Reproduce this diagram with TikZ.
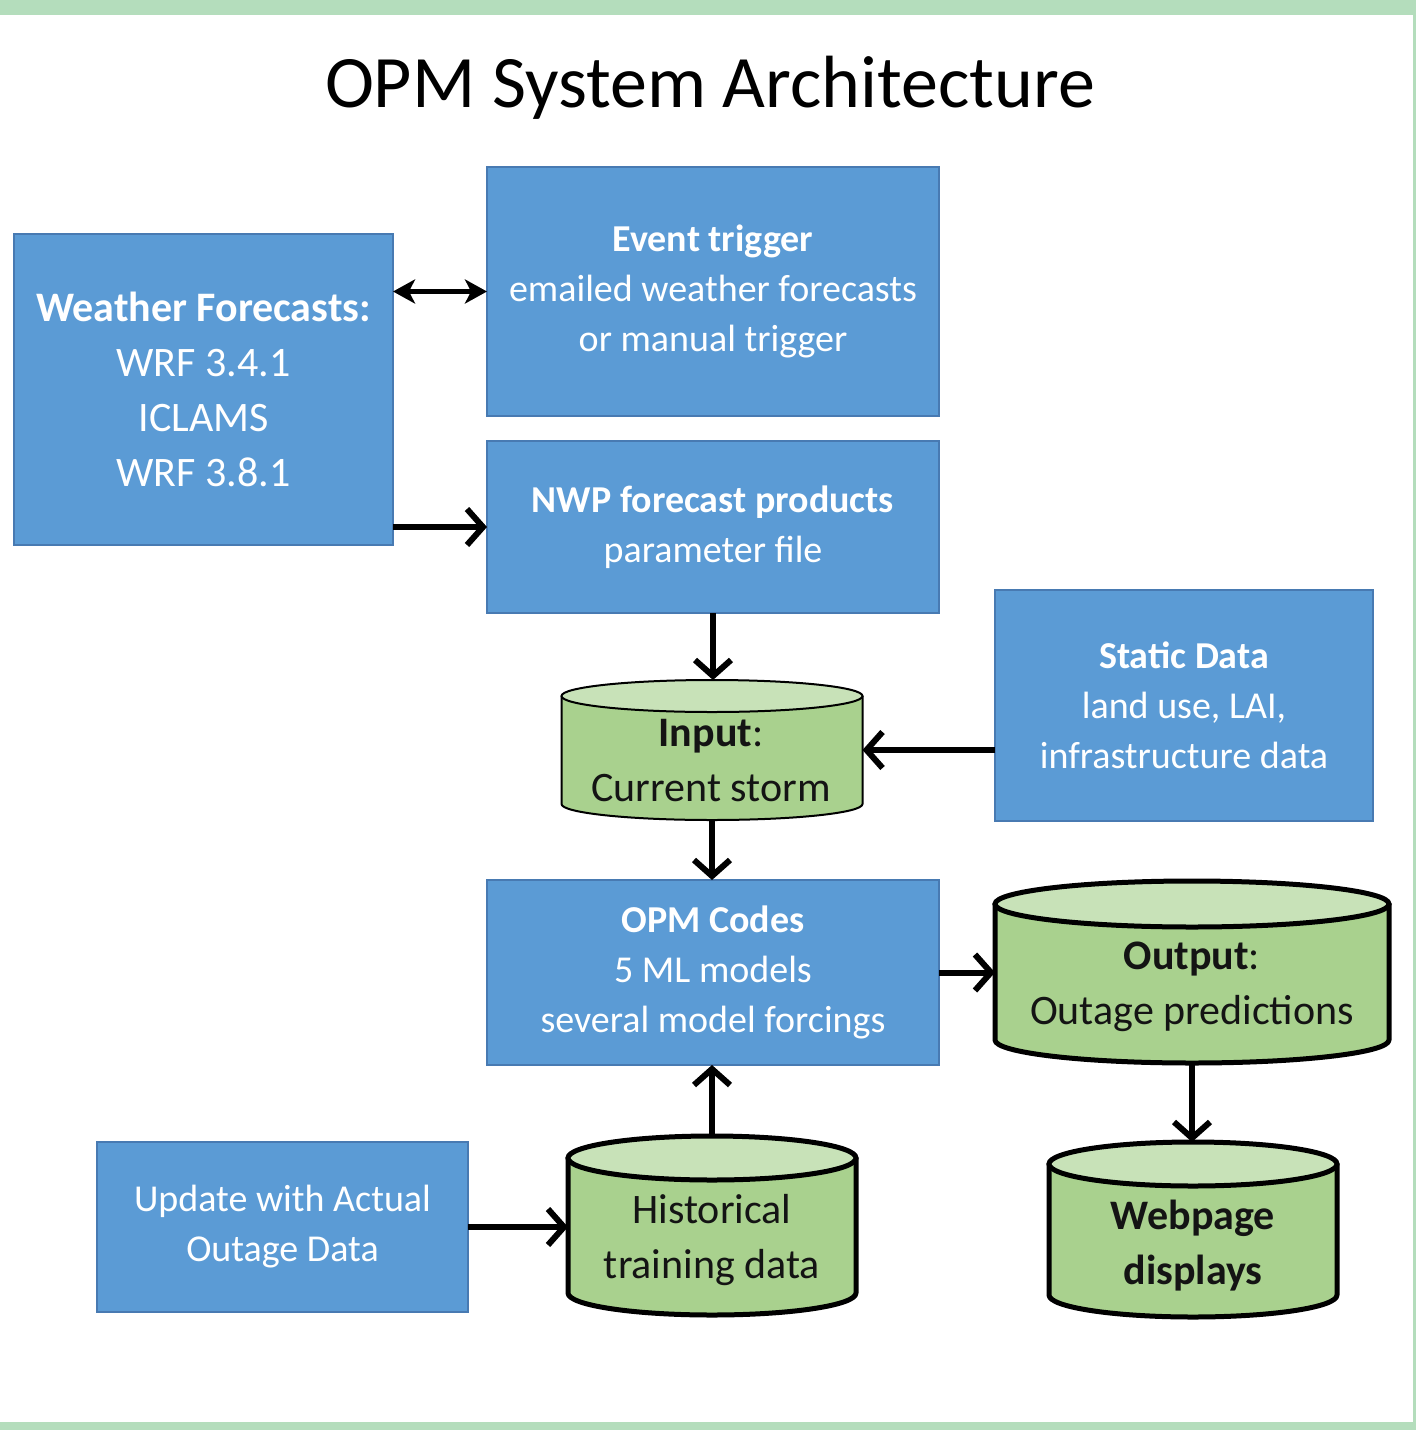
\documentclass[tikz,border=0pt]{standalone}
\usepackage{fontspec}
\setmainfont{Carlito}
\usetikzlibrary{arrows.meta,fit}
\definecolor{boxblue}{RGB}{91,155,213}
\definecolor{boxedge}{RGB}{72,122,178}
\definecolor{cylbody}{RGB}{169,209,142}
\definecolor{cyltop}{RGB}{200,226,184}
\definecolor{framegreen}{RGB}{180,221,188}
\definecolor{darktext}{RGB}{20,20,20}

\newcommand{\dbcyl}[7]{%
  \pgfmathsetmacro{\cyXl}{#2-#5}\pgfmathsetmacro{\cyXr}{#2+#5}%
  \pgfmathsetmacro{\cyRx}{#5*0.5}\pgfmathsetmacro{\cyRy}{#6*0.5}%
  \pgfmathsetmacro{\cyTop}{#3-#6}\pgfmathsetmacro{\cyBot}{#4+#6}%
  \filldraw[fill=cylbody, draw=black, line width=#7, line join=round]
    (\cyXl,#3) -- (\cyXl,#4) arc[start angle=180, end angle=360, x radius=\cyRx pt, y radius=\cyRy pt]
    -- (\cyXr,#3) -- cycle;
  \filldraw[fill=cyltop, draw=black, line width=#7] (#2,#3) ellipse[x radius=\cyRx pt, y radius=\cyRy pt];
  \coordinate (#1-nw) at (\cyXl,\cyTop);
  \coordinate (#1-se) at (\cyXr,\cyBot);
  \node[fit=(#1-nw)(#1-se), inner sep=0pt, outer sep=0pt] (#1) {};
}

\begin{document}
\begin{tikzpicture}[x=0.5pt, y=-0.5pt,
  bluebox/.style={draw=boxedge, fill=boxblue, line width=0.75pt, text=white, align=center,
    inner sep=0pt, outer sep=0pt, font=\fontsize{19}{25}\selectfont},
  cyltext/.style={text=darktext, align=center, inner sep=0pt, font=\fontsize{21}{27.5}\selectfont},
  flow/.style={line width=3pt, -{Straight Barb[length=8pt, width=18pt]}},
  both/.style={line width=2.6pt, {Stealth[length=11pt, width=12pt, inset=3pt]}-{Stealth[length=11pt, width=12pt, inset=3pt]}}
]
\useasboundingbox (0,0) rectangle (1416,1430);
\fill[white] (0,0) rectangle (1416,1430);
\fill[framegreen] (0,0) rectangle (1416,15);
\fill[framegreen] (0,1422) rectangle (1416,1430);
\fill[framegreen] (1413,0) rectangle (1416,1430);

\node[anchor=base, font=\fontsize{37}{44}\selectfont] (title) at (710,107) {OPM System Architecture};

\node[bluebox, minimum width=189.5pt, minimum height=155.5pt, font=\fontsize{21}{27.5}\selectfont] (wf) at (203.5,389.5)
  {\textbf{Weather Forecasts:}\\WRF 3.4.1\\ICLAMS\\WRF 3.8.1};
\node[bluebox, minimum width=226pt, minimum height=124.5pt] (ev) at (713,291.5)
  {\textbf{Event trigger}\\emailed weather forecasts\\or manual trigger};
\node[bluebox, minimum width=226pt, minimum height=86pt] (nwp) at (713,527)
  {\textbf{NWP forecast products}\\parameter file};
\node[bluebox, minimum width=189pt, minimum height=115.5pt] (st) at (1184,705.5)
  {\textbf{Static Data}\\land use, LAI,\\infrastructure data};
\node[bluebox, minimum width=226pt, minimum height=92.5pt] (opm) at (713,972.5)
  {\textbf{OPM Codes}\\5 ML models\\several model forcings};
\node[bluebox, minimum width=185.5pt, minimum height=85pt] (up) at (282.5,1227)
  {Update with Actual\\Outage Data};

\dbcyl{in}{712}{696}{804}{150.5}{16}{1pt}
\dbcyl{out}{1192}{904}{1040}{197}{23}{2.5pt}
\dbcyl{hist}{712}{1158}{1293}{144}{22}{2.5pt}
\dbcyl{web}{1193}{1164}{1295}{144}{22}{2.5pt}

\node[cyltext] (intx) at (711,761) {\textbf{Input}:\\Current storm};
\node[cyltext] (outtx) at (1192,987) {\textbf{Output}:\\Outage predictions};
\node[cyltext] (histtx) at (712,1240) {Historical\\training data};
\node[cyltext] (webtx) at (1193,1246) {\textbf{Webpage}\\\textbf{displays}};

\draw[both] (wf.east |- ev.west) -- (ev.west);
\draw[flow] (wf.east |- nwp.west) -- (nwp.west);
\draw[flow] (nwp.south) -- (nwp.south |- in.north);
\draw[flow] (st.west |- in.east) -- (in.east);
\draw[flow] (in.south) -- (in.south |- opm.north);
\draw[flow] (opm.east) -- (opm.east -| out.west);
\draw[flow] (hist.north) -- (hist.north |- opm.south);
\draw[flow] (out.south) -- (out.south |- web.north);
\draw[flow] (up.east) -- (up.east -| hist.west);
\end{tikzpicture}
\end{document}
